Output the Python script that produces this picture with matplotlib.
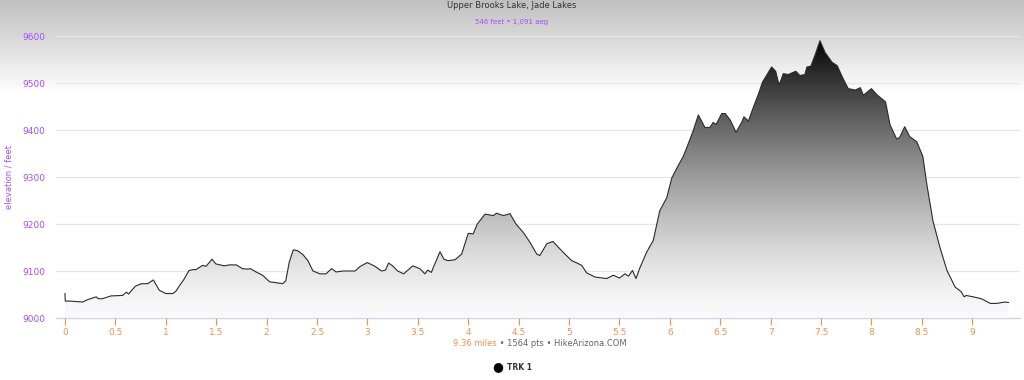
import numpy as np
import matplotlib
matplotlib.use("Agg")
import matplotlib.pyplot as plt
from matplotlib.colors import LinearSegmentedColormap

# elevation profile (miles, feet)
miles = [0.0, 0.003, 0.05, 0.175, 0.225, 0.31, 0.33, 0.37, 0.456, 0.57, 0.61, 0.63,
         0.70, 0.76, 0.82, 0.876, 0.936, 1.0, 1.07, 1.10, 1.15, 1.18, 1.23, 1.27,
         1.30, 1.366, 1.40, 1.458, 1.498, 1.58, 1.63, 1.70, 1.76, 1.81, 1.84, 1.895,
         1.96, 2.03, 2.10, 2.16, 2.19, 2.225, 2.265, 2.31, 2.36, 2.41, 2.46, 2.53,
         2.59, 2.645, 2.69, 2.76, 2.877, 2.93, 3.0, 3.075, 3.14, 3.18, 3.21, 3.25,
         3.30, 3.36, 3.45, 3.52, 3.57, 3.60, 3.635, 3.655, 3.72, 3.76, 3.80, 3.87,
         3.935, 4.0, 4.05, 4.09, 4.167, 4.25, 4.28, 4.35, 4.415, 4.474, 4.547, 4.613,
         4.68, 4.71, 4.78, 4.84, 4.91, 4.96, 5.027, 5.08, 5.126, 5.175, 5.26, 5.374,
         5.44, 5.50, 5.556, 5.59, 5.63, 5.665, 5.70, 5.77, 5.836, 5.90, 5.97, 6.02,
         6.07, 6.134, 6.18, 6.23, 6.283, 6.35, 6.40, 6.43, 6.46, 6.515, 6.55, 6.60,
         6.657, 6.71, 6.736, 6.78, 6.83, 6.88, 6.92, 7.01, 7.05, 7.077, 7.09, 7.126,
         7.175, 7.25, 7.29, 7.34, 7.36, 7.40, 7.44, 7.49, 7.54, 7.61, 7.66, 7.72,
         7.77, 7.84, 7.89, 7.92, 8.00, 8.06, 8.10, 8.14, 8.185, 8.25, 8.28, 8.33,
         8.38, 8.45, 8.51, 8.55, 8.61, 8.68, 8.75, 8.83, 8.89, 8.92, 8.94, 9.01,
         9.09, 9.18, 9.24, 9.325, 9.36]
elev = [9052, 9036, 9036, 9034, 9039, 9045, 9041, 9041, 9047, 9048, 9055, 9051,
        9068, 9073, 9073, 9081, 9059, 9052, 9052, 9057, 9073, 9082, 9101, 9103,
        9103, 9112, 9110, 9125, 9115, 9111, 9113, 9113, 9105, 9104, 9105, 9098,
        9091, 9077, 9075, 9073, 9079, 9119, 9145, 9143, 9135, 9122, 9100, 9094,
        9094, 9105, 9098, 9100, 9100, 9110, 9118, 9110, 9100, 9102, 9117, 9111,
        9100, 9094, 9111, 9105, 9094, 9102, 9097, 9108, 9141, 9125, 9122, 9124,
        9136, 9180, 9179, 9200, 9221, 9218, 9223, 9218, 9222, 9200, 9182, 9161,
        9136, 9133, 9158, 9163, 9147, 9136, 9122, 9117, 9112, 9096, 9087, 9084,
        9091, 9085, 9094, 9089, 9101, 9084, 9105, 9140, 9165, 9228, 9256, 9298,
        9319, 9344, 9369, 9397, 9432, 9405, 9406, 9416, 9412, 9435, 9435, 9421,
        9395, 9415, 9428, 9419, 9449, 9477, 9502, 9534, 9525, 9502, 9498, 9520,
        9518, 9525, 9516, 9518, 9534, 9536, 9559, 9590, 9565, 9544, 9537, 9509,
        9488, 9485, 9490, 9474, 9488, 9474, 9467, 9460, 9411, 9381, 9384, 9407,
        9386, 9375, 9344, 9284, 9207, 9150, 9101, 9066, 9056, 9045, 9048, 9045,
        9041, 9031, 9031, 9034, 9033]

yticks = [9000, 9100, 9200, 9300, 9400, 9500, 9600]
xticks = [0, 0.5, 1, 1.5, 2, 2.5, 3, 3.5, 4, 4.5, 5, 5.5, 6, 6.5, 7, 7.5, 8, 8.5, 9]
xlabels = ["0", "0.5", "1", "1.5", "2", "2.5", "3", "3.5", "4", "4.5", "5", "5.5",
           "6", "6.5", "7", "7.5", "8", "8.5", "9"]

purple = "#a64dff"
orange = "#f7904f"

fig = plt.figure(figsize=(10.24, 3.8), dpi=100)

# gray-to-white background at the top of the figure
bg = fig.add_axes([0, 0, 1, 1], zorder=-10)
rows = np.linspace(0, 1, 380)
shade = np.clip(0.75 + 0.25 * rows / 0.25, 0, 1)
bg.imshow(np.tile(shade[:, None], (1, 2)), cmap="gray", vmin=0, vmax=1,
          aspect="auto", extent=(0, 1, 0, 1))
bg.set_axis_off()

ax = fig.add_axes([56 / 1024, 1 - 318 / 380, 964 / 1024, 282 / 380])
ax.set_facecolor("none")
ax.set_axisbelow(True)
ax.set_xlim(-0.089, 9.474)
ax.set_ylim(9000, 9600)

# vertical gradient fill under the profile: white at the bottom, black at the top
g = np.linspace(0, 1, 256)
vals = 0.98 * (1 - g ** 1.4)
cmap = LinearSegmentedColormap.from_list("prof", [(v, v, v) for v in vals])
grad = np.linspace(0, 1, 300)[:, None]
poly = ax.fill_between(miles, 9000, elev, color="none", lw=0)
img = ax.imshow(grad, cmap=cmap, vmin=0, vmax=1, aspect="auto", origin="lower",
                extent=(miles[0], miles[-1], 9000, 9600), zorder=1)
img.set_clip_path(poly.get_paths()[0], transform=ax.transData)
ax.plot(miles, elev, color="#2b2b2b", lw=0.8, zorder=3)

ax.set_yticks(yticks)
ax.set_yticklabels([str(t) for t in yticks])
ax.grid(axis="y", color="#e6e6e6", lw=0.9)
ax.set_xticks(xticks)
ax.set_xticklabels(xlabels)
for s in ["top", "right", "left"]:
    ax.spines[s].set_visible(False)
ax.spines["bottom"].set_color("#ccd6eb")
ax.spines["bottom"].set_linewidth(1)
ax.spines["bottom"].set_zorder(0.5)
ax.tick_params(axis="y", length=0, pad=8, labelsize=6.5, labelcolor=purple)
ax.tick_params(axis="x", length=5, width=0.8, color=orange, labelcolor=orange,
               labelsize=6.5, pad=2)
ax.set_ylabel("elevation / feet", color=purple, fontsize=6)
ax.yaxis.set_label_coords(-42 / 964, 0.5)

fig.text(0.5, 1 - 6 / 380, "Upper Brooks Lake, Jade Lakes", ha="center", va="center",
         fontsize=6, color="#333333")
fig.text(0.5, 1 - 22 / 380, "546 feet • 1,091 aeg", ha="center", va="center",
         fontsize=5, color=purple)

cx = 538 / 1024
fig.text(cx - 0.04, 1 - 343 / 380, "9.36 miles", ha="right", va="center",
         fontsize=6, color=orange)
fig.text(cx - 0.04, 1 - 343 / 380, " • 1564 pts • HikeArizona.COM", ha="left",
         va="center", fontsize=6, color="#666666")

fig.text(498 / 1024, 1 - 367 / 380, "●", ha="center", va="center", fontsize=9,
         color="black")
fig.text(507 / 1024, 1 - 367 / 380, "TRK 1", ha="left", va="center", fontsize=5.5,
         color="#333333", fontweight="bold")

fig.savefig("out.png", dpi=100)
